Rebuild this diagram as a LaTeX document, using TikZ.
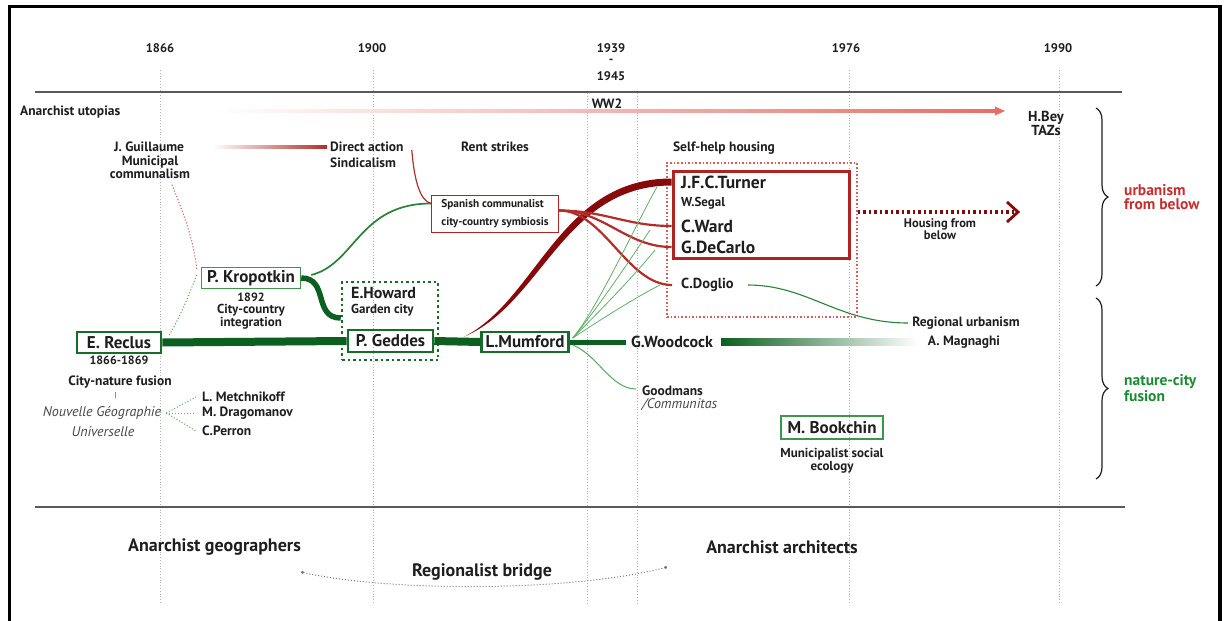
\documentclass[tikz,border=0pt]{standalone}
\usepackage{fontspec}
\setmainfont{PT Sans}
\usetikzlibrary{calc,decorations.pathreplacing,arrows.meta}
\definecolor{txt}{RGB}{30,30,30}
\definecolor{txtb}{RGB}{70,70,70}
\definecolor{dg}{RGB}{12,95,32}
\definecolor{gbord}{RGB}{20,110,40}
\definecolor{gbordl}{RGB}{60,150,75}
\definecolor{lgr}{RGB}{95,175,105}
\definecolor{mgr}{RGB}{40,130,55}
\definecolor{dred}{RGB}{135,10,10}
\definecolor{bred}{RGB}{175,35,35}
\definecolor{mred}{RGB}{180,45,42}
\definecolor{lred}{RGB}{215,95,90}
\definecolor{utopc}{RGB}{232,110,100}
\definecolor{redtxt}{RGB}{200,45,45}
\definecolor{greentxt}{RGB}{25,140,50}
\definecolor{vgray}{RGB}{175,175,175}
\definecolor{hgray}{RGB}{90,90,90}
\definecolor{bgray}{RGB}{120,120,120}
\begin{document}
\begin{tikzpicture}[x=1pt,y=-1pt,
  every node/.style={inner sep=0pt,text=txt},
  yr/.style={font=\bfseries\fontsize{12.5}{12.5}\selectfont},
  lbl/.style={font=\bfseries\fontsize{13.5}{13.5}\selectfont},
  sm/.style={font=\bfseries\fontsize{13}{11}\selectfont,align=center},
  itl/.style={font=\itshape\fontsize{14}{14}\selectfont,text=txtb},
  big/.style={font=\bfseries\fontsize{17}{17}\selectfont},
  mid/.style={font=\bfseries\fontsize{17.5}{17.5}\selectfont},
  gbox/.style={big,draw=gbordl,line width=1.4},
  gboxk/.style={big,draw=gbord,line width=2.6},
  vline/.style={draw=vgray,dotted,line width=0.8},
  hline/.style={draw=hgray,line width=2},
  bottomtxt/.style={font=\bfseries\fontsize{18}{18}\selectfont},
  bracestyle/.style={draw=txt,line width=1.2,decorate,decoration={brace,amplitude=12}},
  sidetxt/.style={font=\bfseries\fontsize{15.5}{14}\selectfont,align=left,anchor=west},
  bigdots/.style={line width=2.5,dash pattern=on 2.5 off 3},
]
\useasboundingbox (0,0) rectangle (1227,621);
% frame
\draw[black,line width=3.5] (9.5,625) -- (9.5,6.5) -- (1220,6.5) -- (1220,625);

% years
\node[yr] (y1866) at (160,48) {1866};
\node[yr] (y1900) at (372,48) {1900};
\node[yr] (y1939) at (611,48) {1939};
\node[yr] (ydash) at (611,61) {-};
\node[yr] (y1945) at (611,76) {1945};
\node[yr] (y1976) at (846,48) {1976};
\node[yr] (y1990) at (1058,48) {1990};

\foreach \x in {160,373,849,1059} \draw[vline] (\x,70) -- (\x,604);
\foreach \x in {587,637} \draw[vline] (\x,93) -- (\x,604);

\draw[hline] (35,92) -- (1122,92);
\draw[hline] (35,507) -- (1125,507);

% top row
\node[lbl,anchor=west] (utop) at (20,112) {Anarchist utopias};
\node[lbl] (ww2) at (607,104) {WW2};
\node[font=\bfseries\fontsize{14.5}{14}\selectfont,align=center] (hbey) at (1046,123) {H.Bey\\TAZs};
\coordinate (ustart) at (213,111);
\coordinate (uend) at (1005,111);
\shade[left color=white,right color=utopc] ($(ustart)+(0,-1.3)$) rectangle ($(uend)+(-8,1.3)$);
\fill[utopc] ($(uend)+(-10,-4.5)$) -- (uend) -- ($(uend)+(-10,4.5)$) -- cycle;

\node[lbl] (guil) at (149,147) {J. Guillaume};
\node[font=\bfseries\fontsize{13.5}{11.5}\selectfont,align=center] (munic) at (150,167) {Municipal\\communalism};
\node[lbl,anchor=west] (direct) at (330,147) {Direct action};
\node[lbl,anchor=west] (sindic) at (330,163) {Sindicalism};
\coordinate (gstart) at (213,147);
\shade[left color=white,right color=mred] ($(gstart)+(0,-1.2)$) rectangle ($(direct.west)+(-3,1.2)$);

\node[lbl] (rent) at (495,147) {Rent strikes};
\node[lbl] (selfhelp) at (724,148) {Self-help housing};

\node[draw=bred,line width=1,font=\bfseries\fontsize{11.3}{18}\selectfont,align=left,
  minimum width=127,minimum height=37] (span) at (495,213.5) {Spanish communalist\\city-country symbiosis};

% Kropotkin
\node[gbox,minimum width=99,minimum height=21] (krop) at (251,278) {P. Kropotkin};
\node[font=\bfseries\fontsize{12}{12}\selectfont] (k1892) at (251,297) {1892};
\node[sm] (cci) at (251,317) {City-country\\integration};

% Reclus
\node[gboxk,minimum width=84,minimum height=21] (reclus) at (119,342.5) {E. Reclus};
\node[font=\bfseries\fontsize{12}{12}\selectfont] (rdates) at (119,360) {1866-1869};
\node[lbl] (cnf) at (120,382) {City-nature fusion};
\node[itl] (ng) at (102,413) {Nouvelle Géographie};
\node[itl] (univ) at (103,432) {Universelle};
\node[lbl,anchor=west] (metch) at (202,397) {L. Metchnikoff};
\node[lbl,anchor=west] (drag) at (202,413) {M. Dragomanov};
\node[lbl,anchor=west] (perron) at (202,431) {C.Perron};
\draw[lgr,line width=1] ($(cnf.south)+(-5,4)$) -- ++(0,6);
\foreach \n in {metch,drag,perron}
  \draw[lgr,dotted,line width=1] ($(ng.east)+(5,0)$) -- ($(\n.west)+(-6,0)$);

% Howard / Geddes
\node[draw=gbord,bigdots,minimum width=96,minimum height=78] (howbox) at (390,321) {};
\node[font=\bfseries\fontsize{16}{16}\selectfont,anchor=west] (howard) at (351,293) {E.Howard};
\node[font=\bfseries\fontsize{13}{13}\selectfont,anchor=west] (garden) at (351,310) {Garden city};
\node[gboxk,minimum width=85,minimum height=22] (geddes) at (390.5,341) {P. Geddes};

% Mumford and beyond
\node[gboxk,minimum width=87,minimum height=20] (mumford) at (525,342) {L.Mumford};
\node[font=\bfseries\fontsize{16}{16}\selectfont] (wood) at (672,342) {G.Woodcock};
\node[lbl] (magn) at (964,342) {A. Magnaghi};
\node[lbl] (regurb) at (966,323) {Regional urbanism};

\node[lbl,anchor=west] (goodm) at (642,391) {Goodmans};
\node[itl,anchor=west] (commun) at (642,405) {/Communitas};

\node[gbox,minimum width=102,minimum height=23] (bookchin) at (832,427.5) {M. Bookchin};
\node[sm] (msoc) at (832,461) {Municipalist social\\ecology};

% Turner group
\node[draw=lred,dotted,line width=1.6,minimum width=190,minimum height=154] (dbox) at (762,240) {};
\node[draw=bred,line width=3,minimum width=176,minimum height=87] (tbox) at (761,214.5) {};
\node[mid,anchor=west] (turner) at (681,182) {J.F.C.Turner};
\node[font=\bfseries\fontsize{13}{13}\selectfont,anchor=west] (segal) at (681,203) {W.Segal};
\node[mid,anchor=west] (ward) at (681,226) {C.Ward};
\node[mid,anchor=west] (decarlo) at (681,247) {G.DeCarlo};
\node[font=\bfseries\fontsize{14.5}{14.5}\selectfont,anchor=west] (doglio) at (681,285) {C.Doglio};

\coordinate (harr) at (1018,212);
\draw[dred,line width=3.5,dash pattern=on 2.5 off 3] (dbox.east |- harr) -- ($(harr)+(-4,0)$);
\draw[dred,line width=2.8,line join=miter] ($(harr)+(-11,-10)$) -- (harr) -- ($(harr)+(-11,10)$);
\node[font=\bfseries\fontsize{12.5}{10}\selectfont,align=center] (hfb) at (940,229) {Housing from\\below};

% braces
\draw[bracestyle] (1096,108) -- (1096,286);
\draw[bracestyle] (1096,298) -- (1096,479);
\node[sidetxt,text=redtxt] (ufb) at (1124,197) {urbanism\\from below};
\node[sidetxt,text=greentxt] (ncf) at (1124,388) {nature-city\\fusion};

% bottom
\node[bottomtxt] (geog) at (214.5,547) {Anarchist geographers};
\node[bottomtxt] (arch) at (782,547) {Anarchist architects};
\node[bottomtxt] (bridge) at (482,572) {Regionalist bridge};
\coordinate (bl) at ($(geog.east)+(0,25)$);
\coordinate (br) at ($(arch.west)+(-39,20)$);
\draw[bgray,dotted,line width=1,{Circle[length=3]}-{Circle[length=3]}] (bl) .. controls +(88,20) and +(-95,25) .. (br);

% ---- connectors ----
\draw[lred,dotted,line width=1.1] ($(munic.south)+(22,6)$) .. controls +(12,30) and +(-3,-30) .. ($(krop.west)+(-4,-8)$);
\draw[lgr,dotted,line width=1.1] ($(krop.west)+(-4,-3)$) .. controls +(-10,25) and +(12,-20) .. ($(reclus.north east)+(6,6)$);

\draw[dg,line width=8] (reclus.east) -- (geddes.west);
\draw[dg,line width=8] (geddes.east) -- (mumford.west);
\draw[dg,line width=5] (mumford.east) -- ($(wood.west)+(-5,0)$);
\shade[left color=dg,middle color=dg!85,right color=white] ($(wood.east)+(8,-3.5)$) rectangle ($(magn.west)+(-10,3.5)$);

\draw[dg,line width=5.5] (krop.east) .. controls +(28,0) and +(-28,0) .. ($(howbox.west)+(0,-3)$);
\draw[mgr,line width=1.7] ($(krop.east)+(10,-3)$) .. controls +(44,-11) and +(-72,0) .. ($(span.west)+(0,-10)$);
\draw[mred,line width=1.2] ($(direct.east)+(8,3)$) .. controls +(3,35) and +(-10,-3) .. ($(span.west)+(0,-10)$);

% thick tapering red curve
\coordinate (rs) at ($(geddes.east)!0.65!(mumford.west)+(0,-5)$);
\coordinate (tw) at (tbox.west |- turner);
\fill[dred] (rs) .. controls +(73,-37) and +(-112,0) .. ($(tw)+(0,-3.5)$) -- ($(tw)+(0,3.5)$) .. controls +(-108,0) and +(78,-33) .. (rs) -- cycle;

\foreach \t in {ward,decarlo}
  \draw[mred,line width=2.2] ($(span.east)+(0,-3)$) .. controls +(45,0) and +(-45,0) .. (tbox.west |- \t);
\draw[mred,line width=2.2] ($(span.east)+(0,-3)$) .. controls +(45,0) and +(-45,0) .. ($(doglio.west)+(-9,0)$);

\coordinate (mo) at ($(mumford.east)+(3,-4)$);
\draw[lgr,line width=0.8] (mo) .. controls +(25,-30) and +(-20,35) .. ($(turner.west)+(-24,5)$);
\draw[lgr,line width=0.8] (mo) .. controls +(25,-30) and +(-20,30) .. ($(ward.west)+(-31,4)$);
\draw[lgr,line width=0.8] (mo) .. controls +(25,-25) and +(-20,25) .. ($(decarlo.west)+(-26,3)$);
\draw[lgr,line width=0.8] (mo) .. controls +(30,-20) and +(-20,10) .. ($(doglio.west)+(-21,0)$);
\draw[lgr,line width=1.1] ($(mumford.east)+(3,3)$) .. controls +(25,10) and +(-25,0) .. ($(goodm.west)+(-6,-2)$);
\draw[mgr,line width=1.1] ($(doglio.east)+(14,0)$) .. controls +(60,0) and +(-70,0) .. ($(regurb.west)+(-4,0)$);
\end{tikzpicture}
\end{document}
